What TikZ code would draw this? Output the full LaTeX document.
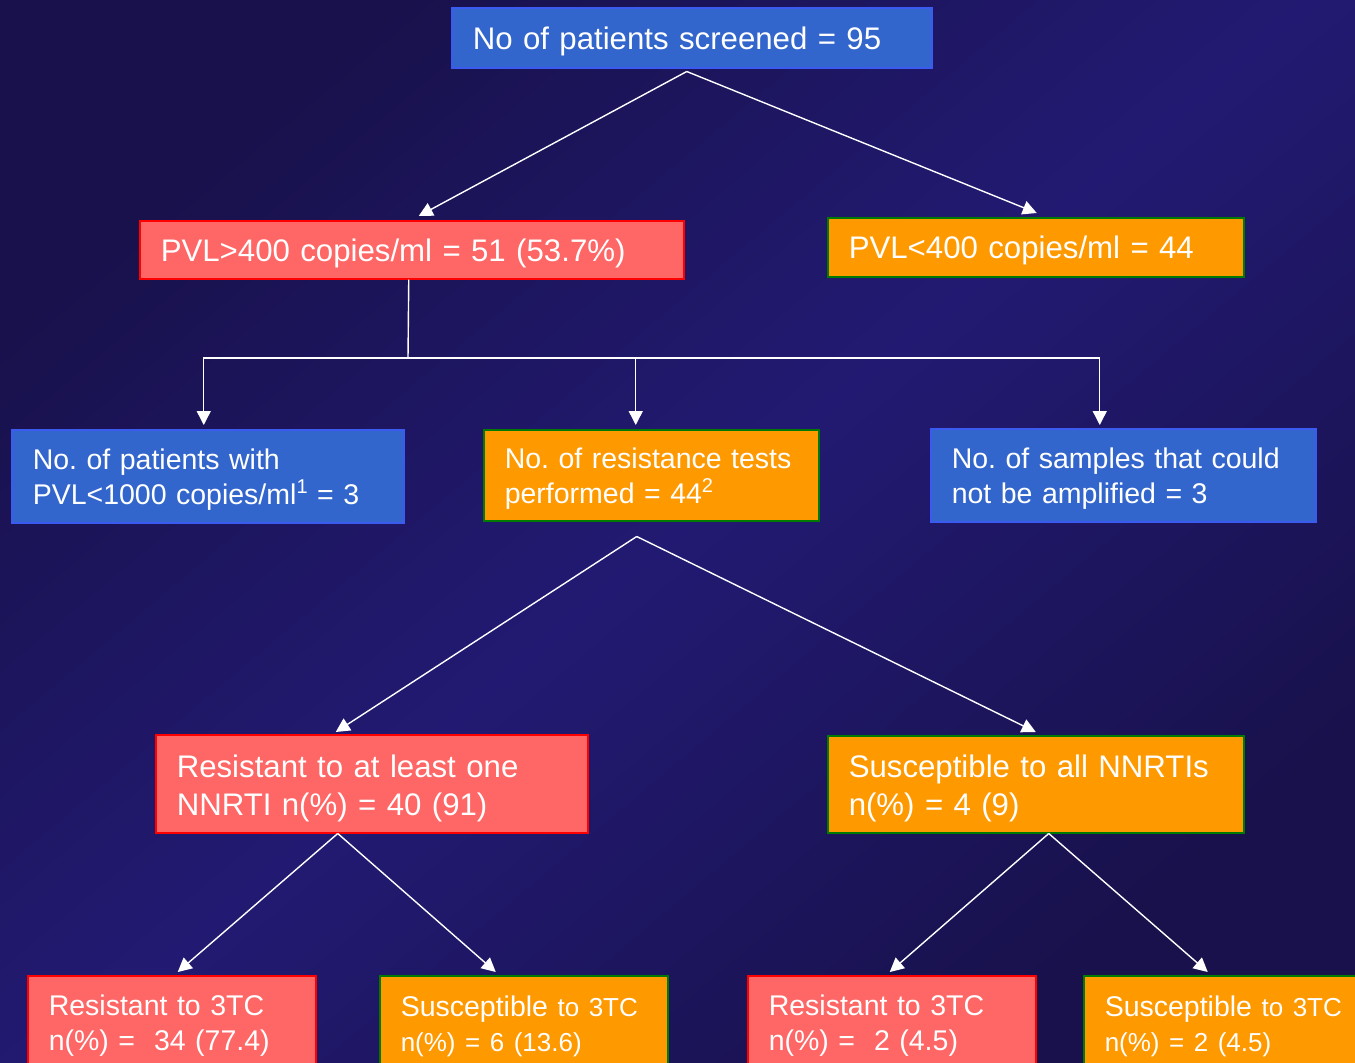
\documentclass[tikz,border=0pt]{standalone}
\usepackage{fontspec}
\setmainfont{Liberation Sans}
\usetikzlibrary{arrows.meta}
\definecolor{bgA}{HTML}{221A72}
\definecolor{bgB}{HTML}{18114B}
\definecolor{boxblue}{HTML}{3366CC}
\definecolor{edgeblue}{HTML}{3B5BF0}
\definecolor{boxred}{HTML}{FF6666}
\definecolor{edgered}{HTML}{FF0000}
\definecolor{boxorange}{HTML}{FF9900}
\definecolor{edgegreen}{HTML}{007A00}
\newcommand{\supnum}[1]{\raisebox{0.38em}{\fontsize{20}{20}\selectfont #1}}
\frenchspacing
\begin{document}
\begin{tikzpicture}[x=1pt,y=-1pt,
  box/.style={draw, line width=1.5pt, anchor=north west, inner xsep=21pt, inner ysep=0pt,
              text=white, align=left, font=\frenchspacing\fontsize{31.2}{38}\selectfont},
  oneline/.style={text height=23pt, text depth=0pt},
  twobig/.style={text height=31pt},
  twomid/.style={text height=27pt},
  bluebox/.style={box, fill=boxblue, draw=edgeblue},
  redbox/.style={box, fill=boxred, draw=edgered},
  orangebox/.style={box, fill=boxorange, draw=edgegreen},
  mid/.style={font=\frenchspacing\fontsize{28.5}{35}\selectfont},
  conn/.style={white, line width=1.4pt},
  arr/.style={conn, -{Triangle[length=14pt,width=14pt]}},
]
\useasboundingbox (0,0) rectangle (1355,1063);
\shade[shading=axis, top color=bgB, bottom color=bgB, middle color=bgA, shading angle=40] (0,0) rectangle (1355,1063);

% level 0
\node[bluebox, oneline, text width=438pt, minimum height=60pt] (top) at (451,7) {No of patients screened = 95};
% level 1
\node[redbox, oneline, text width=502pt, minimum height=58pt] (pvlhi) at (139,220) {PVL>400 copies/ml = 51 (53.7\%)};
\node[orangebox, oneline, text width=374pt, minimum height=59pt] (pvllo) at (827,217) {PVL<400 copies/ml = 44};
% level 2
\node[bluebox, mid, twomid, text width=350pt, minimum height=93pt] (low) at (11,429) {No. of patients with\\PVL<1000 copies/ml\supnum{1} = 3};
\node[orangebox, mid, twomid, text width=293pt, minimum height=91pt] (tests) at (483,429) {No. of resistance tests\\performed = 44\supnum{2}};
\node[bluebox, mid, twomid, text width=343pt, minimum height=93pt] (noamp) at (930,428) {No. of samples that could\\not be amplified = 3};
% level 3
\node[redbox, twobig, text width=390pt, minimum height=98pt] (resone) at (155,734) {Resistant to at least one\\NNRTI n(\%) = 40 (91)};
\node[orangebox, twobig, text width=374pt, minimum height=97pt] (susall) at (827,735) {Susceptible to all NNRTIs\\n(\%) = 4 (9)};
% level 4
\node[redbox, mid, twomid, text width=246pt, minimum height=94pt] (ra) at (27,975) {Resistant to 3TC\\n(\%) = \ 34 (77.4)};
\node[orangebox, mid, twomid, text width=246pt, minimum height=94pt] (sa) at (379,975) {Susceptible {\fontsize{26}{35}\selectfont to 3TC}\\{\fontsize{26}{35}\selectfont n(\%) = 6 (13.6)}};
\node[redbox, mid, twomid, text width=246pt, minimum height=94pt] (rb) at (747,975) {Resistant to 3TC\\n(\%) = \ 2 (4.5)};
\node[orangebox, mid, twomid, text width=246pt, minimum height=94pt] (sb) at (1083,975) {Susceptible {\fontsize{26}{35}\selectfont to 3TC}\\{\fontsize{26}{35}\selectfont n(\%) = 2 (4.5)}};

% connectors
\draw[arr] ([xshift=-5pt,yshift=-3pt]top.south) -- ([xshift=7pt,yshift=4pt]pvlhi.north);
\draw[arr] ([xshift=-5pt,yshift=-3pt]top.south) -- ([xshift=1pt,yshift=4pt]pvllo.north);

\coordinate (bus) at (408,358);
\draw[conn] ([xshift=-3pt]pvlhi.south) -- (bus);
\draw[arr] (bus) -| ([xshift=-4pt,yshift=4pt]low.north);
\draw[arr] (bus) -| ([xshift=-15.5pt,yshift=4pt]tests.north);
\draw[arr] (bus) -| ([xshift=-23.5pt,yshift=3pt]noamp.north);

\draw[arr] ([xshift=-14.5pt,yshift=-15pt]tests.south) -- ([xshift=-36pt,yshift=2pt]resone.north);
\draw[arr] ([xshift=-14.5pt,yshift=-15pt]tests.south) -- ([xshift=0pt,yshift=3pt]susall.north);

\draw[arr] ([xshift=-34pt]resone.south) -- ([xshift=6pt,yshift=3pt]ra.north);
\draw[arr] ([xshift=-34pt]resone.south) -- ([xshift=-28pt,yshift=3pt]sa.north);

\draw[arr] ([xshift=13pt]susall.south) -- ([xshift=-2pt,yshift=3pt]rb.north);
\draw[arr] ([xshift=13pt]susall.south) -- ([xshift=-20pt,yshift=3pt]sb.north);
\end{tikzpicture}
\end{document}
